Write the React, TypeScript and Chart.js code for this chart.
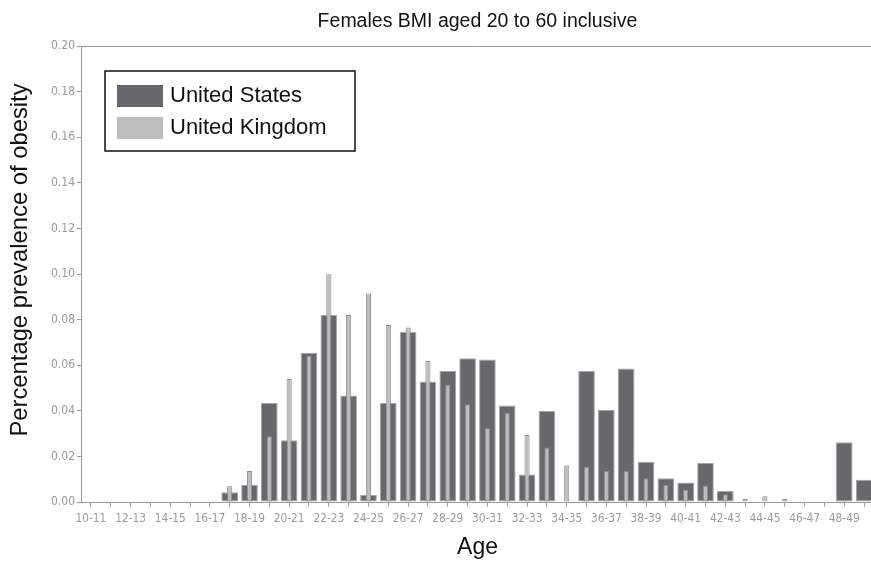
import React, { useEffect, useRef } from 'react';
import { Chart, registerables } from 'chart.js';

Chart.register(...registerables);

const AGE_BANDS = [
  '10-11', '11-12', '12-13', '13-14', '14-15', '15-16', '16-17', '17-18', '18-19', '19-20',
  '20-21', '21-22', '22-23', '23-24', '24-25', '25-26', '26-27', '27-28', '28-29', '29-30',
  '30-31', '31-32', '32-33', '33-34', '34-35', '35-36', '36-37', '37-38', '38-39', '39-40',
  '40-41', '41-42', '42-43', '43-44', '44-45', '45-46', '46-47', '47-48', '48-49', '49-50',
];

const US_VALUES = [
  0, 0, 0, 0, 0, 0, 0, 0.0043, 0.0075, 0.0434,
  0.0271, 0.0654, 0.082, 0.0467, 0.0031, 0.0434, 0.0747, 0.0528, 0.0575, 0.063,
  0.0625, 0.0423, 0.0121, 0.0399, 0, 0.0575, 0.0405, 0.0586, 0.0177, 0.0104,
  0.0086, 0.0171, 0.0048, 0, 0, 0, 0, 0, 0.0262, 0.0098,
];

const UK_VALUES = [
  0, 0, 0, 0, 0, 0, 0, 0.0069, 0.0136, 0.0288,
  0.054, 0.0642, 0.0999, 0.082, 0.0914, 0.0776, 0.0765, 0.0618, 0.0513, 0.0429,
  0.0323, 0.039, 0.0294, 0.0239, 0.016, 0.0154, 0.0136, 0.0136, 0.0104, 0.0075,
  0.0054, 0.0072, 0.0034, 0.0013, 0.0025, 0.0013, 0, 0, 0.0005, 0,
];

const SERIES_NAMES = ['United States', 'United Kingdom'];
const Y_MIN = 0;
const Y_MAX = 0.2;
const Y_STEP = 0.02;

const TITLE = 'Females BMI aged 20 to 60 inclusive';
const X_TITLE = 'Age';
const Y_TITLE = 'Percentage prevalence of obesity';

const US_FILL = '#68686c';
const US_EDGE = '#a4a4a6';
const UK_FILL = '#bdbdc0';
const UK_EDGE = '#8e8e90';
const AXIS_COLOR = '#9c9c9c';
const TICK_TEXT = '#9a9a9a';
const SANS = '"Liberation Sans", Arial, sans-serif';
const TICK_FONT = '"DejaVu Sans Condensed", "DejaVu Sans", sans-serif';

const overlayPlugin = {
  id: 'overlay',
  afterDraw(chart: any) {
    const { ctx, chartArea } = chart;
    const { left, right, top, bottom } = chartArea;
    ctx.save();

    // plot frame (top and right)
    ctx.strokeStyle = AXIS_COLOR;
    ctx.lineWidth = 1;
    ctx.beginPath();
    ctx.moveTo(left, top + 0.5);
    ctx.lineTo(right, top + 0.5);
    ctx.moveTo(right - 0.5, top);
    ctx.lineTo(right - 0.5, bottom);
    ctx.stroke();

    // title
    ctx.fillStyle = '#111111';
    ctx.textBaseline = 'alphabetic';
    ctx.textAlign = 'center';
    ctx.font = `19.5px ${SANS}`;
    ctx.fillText(TITLE, (left + right) / 2, top - 19);

    // x title
    ctx.font = `23px ${SANS}`;
    ctx.fillText(X_TITLE, (left + right) / 2, bottom + 52);

    // y title
    ctx.save();
    ctx.translate(27, (top + bottom) / 2 - 14);
    ctx.rotate(-Math.PI / 2);
    ctx.font = `23.8px ${SANS}`;
    ctx.fillText(Y_TITLE, 0, 0);
    ctx.restore();

    // legend
    const lx = left + 24;
    const ly = top + 25;
    ctx.strokeStyle = '#111111';
    ctx.lineWidth = 1.5;
    ctx.fillStyle = '#ffffff';
    ctx.fillRect(lx, ly, 250, 80);
    ctx.strokeRect(lx, ly, 250, 80);
    const fills = [US_FILL, UK_FILL];
    ctx.font = `22px ${SANS}`;
    ctx.textAlign = 'left';
    SERIES_NAMES.forEach((name, i) => {
      const sy = ly + 14 + i * 32;
      ctx.fillStyle = fills[i];
      ctx.fillRect(lx + 12, sy, 46, 22);
      ctx.fillStyle = '#111111';
      ctx.fillText(name, lx + 65, sy + 17);
    });

    ctx.restore();
  },
};

export default function App() {
  const canvasRef = useRef<HTMLCanvasElement | null>(null);

  useEffect(() => {
    if (!canvasRef.current) return;
    const chart = new Chart(canvasRef.current, {
      type: 'bar',
      data: {
        labels: AGE_BANDS,
        datasets: [
          {
            label: SERIES_NAMES[0],
            data: US_VALUES,
            backgroundColor: US_FILL,
            borderColor: US_EDGE,
            borderWidth: 1,
            borderSkipped: false,
            barPercentage: 0.84,
            categoryPercentage: 1,
            grouped: false,
            order: 2,
          },
          {
            label: SERIES_NAMES[1],
            data: UK_VALUES,
            backgroundColor: UK_FILL,
            borderColor: UK_EDGE,
            borderWidth: 1,
            borderSkipped: false,
            barPercentage: 0.26,
            categoryPercentage: 1,
            grouped: false,
            order: 1,
          },
        ],
      },
      options: {
        animation: false,
        responsive: true,
        maintainAspectRatio: false,
        layout: { padding: { left: 0, right: 6, top: 46, bottom: 0 } },
        plugins: {
          legend: { display: false },
          title: { display: false },
          tooltip: { enabled: false },
        },
        scales: {
          x: {
            offset: true,
            grid: {
              offset: false,
              drawOnChartArea: false,
              drawTicks: true,
              tickLength: 5,
              color: AXIS_COLOR,
            },
            border: { display: true, color: AXIS_COLOR, width: 1 },
            ticks: {
              autoSkip: false,
              maxRotation: 0,
              minRotation: 0,
              padding: 5,
              color: TICK_TEXT,
              font: { family: TICK_FONT, size: 11.8 },
              callback: function (this: any, value: any, index: number) {
                return index % 2 === 0 ? this.getLabelForValue(value) : '';
              },
            },
            afterFit: (scale: any) => {
              scale.height = 61;
            },
          },
          y: {
            min: Y_MIN,
            max: Y_MAX,
            grid: {
              drawOnChartArea: false,
              drawTicks: true,
              tickLength: 4,
              color: AXIS_COLOR,
            },
            border: { display: true, color: AXIS_COLOR, width: 1 },
            ticks: {
              stepSize: Y_STEP,
              padding: 2,
              color: TICK_TEXT,
              font: { family: TICK_FONT, size: 12 },
              callback: (v: any) => Number(v).toFixed(2),
            },
            afterFit: (scale: any) => {
              scale.width = 81;
            },
          },
        },
      },
      plugins: [overlayPlugin],
    });
    return () => chart.destroy();
  }, []);

  return (
    <div style={{ position: 'fixed', left: 0, top: 0, width: 880, height: 563, background: '#ffffff' }}>
      <canvas ref={canvasRef} />
    </div>
  );
}
